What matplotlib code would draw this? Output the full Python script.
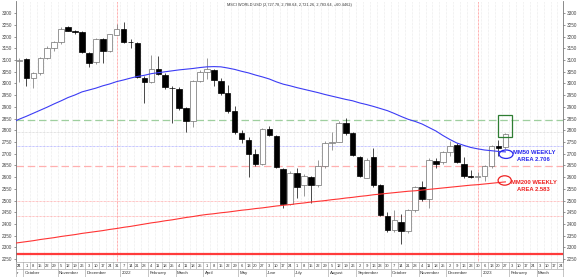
import pandas as pd
import matplotlib
matplotlib.use("Agg")
import matplotlib.pyplot as plt
from matplotlib.patches import Ellipse, Rectangle

plt.rcParams['font.family'] = ['Liberation Sans', 'DejaVu Sans']

title = "MSCI WORLD USD (2,727.78, 2,788.64, 2,721.26, 2,783.64, +60.4462)"

# weekly candles, first one is the week ending 2021-09-24
first_week = "2021-09-24"
opens = [3095, 3103, 3022, 3044, 3110, 3153, 3176, 3239, 3224, 3218,
         3132, 3090, 3188, 3140, 3208, 3232, 3179, 3173, 3025, 3005,
         3062, 3037, 2982, 2975, 2894, 2841, 3011, 3051, 3058, 3012,
         2958, 2883, 2790, 2759, 2699, 2655, 2804, 2776, 2634, 2486,
         2618, 2567, 2601, 2567, 2646, 2748, 2752, 2833, 2788, 2685,
         2598, 2685, 2567, 2433, 2373, 2409, 2370, 2461, 2558, 2505,
         2670, 2665, 2708, 2737, 2658, 2604, 2600, 2604, 2646, 2733,
         2727.78]
highs = [3110, 3110, 3051, 3115, 3160, 3180, 3243, 3244, 3228, 3222,
         3136, 3192, 3192, 3213, 3254, 3262, 3190, 3176, 3030, 3122,
         3118, 3045, 2990, 2985, 2900, 3015, 3056, 3108, 3062, 3022,
         2995, 2905, 2800, 2770, 2720, 2810, 2819, 2780, 2640, 2625,
         2640, 2615, 2605, 2674, 2755, 2794, 2838, 2852, 2795, 2690,
         2680, 2724, 2570, 2450, 2460, 2444, 2466, 2562, 2584, 2680,
         2680, 2712, 2756, 2745, 2688, 2631, 2622, 2652, 2736, 2759,
         2788.64]
lows = [3008, 2990, 2980, 3036, 3105, 3140, 3170, 3222, 3212, 3128,
        3072, 3085, 3087, 3136, 3205, 3172, 3150, 3025, 2916, 3000,
        3035, 2978, 2832, 2888, 2794, 2816, 3005, 3020, 2990, 2950,
        2875, 2785, 2745, 2602, 2647, 2650, 2775, 2638, 2467, 2480,
        2512, 2520, 2490, 2560, 2640, 2716, 2750, 2780, 2690, 2600,
        2595, 2560, 2435, 2365, 2365, 2313, 2360, 2450, 2500, 2470,
        2640, 2655, 2690, 2660, 2596, 2596, 2590, 2582, 2640, 2690,
        2721.26]
closes = [3102, 3022, 3044, 3110, 3153, 3176, 3232, 3226, 3220, 3135,
          3088, 3189, 3140, 3210, 3232, 3179, 3175, 3029, 3005, 3062,
          3041, 2983, 2979, 2894, 2841, 3011, 3051, 3062, 3015, 2958,
          2883, 2794, 2762, 2699, 2655, 2804, 2780, 2642, 2486, 2620,
          2558, 2603, 2567, 2646, 2748, 2752, 2833, 2788, 2695, 2605,
          2674, 2567, 2439, 2373, 2416, 2370, 2461, 2558, 2505, 2673,
          2658, 2708, 2733, 2665, 2604, 2601, 2603, 2646, 2733, 2723.19,
          2783.64]

# moving averages, starting one week before the first candle
ma50 = [2835, 2848, 2860, 2873, 2886, 2899, 2913, 2926, 2940, 2951,
        2964, 2972, 2980, 2990, 2998, 3008, 3015, 3023, 3030, 3035,
        3042, 3046, 3050, 3054, 3058, 3061, 3064, 3068, 3071, 3072,
        3071, 3066, 3060, 3052, 3045, 3036, 3028, 3019, 3007, 2997,
        2990, 2982, 2975, 2968, 2961, 2953, 2946, 2939, 2932, 2926,
        2917, 2910, 2902, 2893, 2884, 2872, 2859, 2847, 2838, 2827,
        2812, 2797, 2778, 2761, 2746, 2736, 2727, 2721, 2716, 2713,
        2710, 2708]
ma200 = [2317, 2321, 2325, 2329, 2334, 2338, 2342, 2347, 2351, 2355,
         2360, 2364, 2368, 2372, 2377, 2381, 2386, 2390, 2395, 2400,
         2405, 2409, 2414, 2418, 2423, 2428, 2432, 2437, 2441, 2444,
         2448, 2451, 2455, 2459, 2462, 2466, 2469, 2473, 2477, 2480,
         2483, 2487, 2490, 2494, 2497, 2500, 2504, 2507, 2511, 2514,
         2518, 2521, 2525, 2528, 2531, 2534, 2537, 2540, 2542, 2545,
         2548, 2551, 2554, 2557, 2560, 2563, 2566, 2568, 2571, 2574,
         2577, 2580]

green_level = 2842
grey_level = 2795
blue_level = 2732
red_dashed_level = 2648
red_dotted_levels = [2499, 2434]
red_support = 2274

y_ticks = list(range(2250, 3301, 50))
year_lines = ["2021-12-31", "2022-12-30"]

W, H = 580, 277


def draw_plot():
    fig = plt.figure(figsize=(W / 100, H / 100), dpi=100)
    left, right = 16 / W, 563 / W
    ax = fig.add_axes([left, 15 / H, right - left, 261 / H])
    ax_d = fig.add_axes([left, 8 / H, right - left, 7 / H])
    ax_m = fig.add_axes([left, 0.5 / H, right - left, 7.5 / H])

    n = len(opens)
    xs = list(range(n))
    xlim = (-0.5, 78.3)
    ax.set_xlim(*xlim)
    ax.set_ylim(2238, 3352)

    # weekly grid
    for k in range(-1, 80):
        ax.axvline(k + 0.5, color='#d8d8d8', lw=0.4, ls=(0, (1, 1.5)), zorder=0)

    start = pd.Timestamp(first_week)
    for d in year_lines:
        k = (pd.Timestamp(d) - start).days // 7
        ax.axvline(k, color='#ff6060', lw=0.5, ls=(0, (1, 1)), zorder=1)

    # horizontal levels
    ax.axhline(green_level, color='#9fcf9f', lw=0.9, ls=(0, (6, 3)), zorder=1)
    ax.axhline(grey_level, color='#c8c8c8', lw=0.5, ls=(0, (1, 1)), zorder=1)
    ax.axhline(blue_level, color='#8f8fff', lw=0.5, ls=(0, (1, 1)), zorder=1)
    ax.axhline(red_dashed_level, color='#ffb0b0', lw=0.9, ls=(0, (6, 3)), zorder=1)
    for lv in red_dotted_levels:
        ax.axhline(lv, color='#ff8c8c', lw=0.5, ls=(0, (1, 1)), zorder=1)
    ax.axhline(red_support, color='#ff3b3b', lw=1.6, zorder=1)

    # moving averages
    xm = list(range(-1, n))
    ax.plot(xm, ma50, color='#3c3cf5', lw=0.8, zorder=4)
    ax.plot(xm, ma200, color='#ff3434', lw=0.8, zorder=4)

    # candles
    for x, o, h, l, c in zip(xs, opens, highs, lows, closes):
        up = c >= o
        edge = '#707070' if up else 'black'
        ax.vlines(x, l, h, color=edge, lw=0.5, zorder=2)
        bottom = min(o, c)
        height = max(abs(c - o), 1.5)
        ax.bar(x, height, bottom=bottom, width=0.8,
               color='white' if up else 'black', edgecolor=edge,
               linewidth=0.5, zorder=3)

    # annotations on the last candle
    ax.add_patch(Rectangle((68.95, 2773), 1.95, 91, fill=False,
                           edgecolor='#2e7d32', lw=0.9, zorder=5))
    ax.add_patch(Ellipse((70.1, 2698), 2.0, 36, fill=False,
                         edgecolor='#2727ee', lw=0.9, zorder=5))
    ax.add_patch(Ellipse((69.9, 2586), 1.9, 40, fill=False,
                         edgecolor='#ee2222', lw=0.9, zorder=5))
    ax.text(74.1, 2705, "MM50 WEEKLY", color='#2727ee', fontsize=4.2,
            fontweight='bold', ha='center', va='center', zorder=6)
    ax.text(74.1, 2677, "AREA 2.706", color='#2727ee', fontsize=4.2,
            fontweight='bold', ha='center', va='center', zorder=6)
    ax.text(74.1, 2577, "MM200 WEEKLY", color='#ee2222', fontsize=4.2,
            fontweight='bold', ha='center', va='center', zorder=6)
    ax.text(74.1, 2547, "AREA 2.583", color='#ee2222', fontsize=4.2,
            fontweight='bold', ha='center', va='center', zorder=6)

    ax.text(0.5, 0.992, title, transform=ax.transAxes, ha='center', va='top',
            fontsize=2.8, color='#333333')

    # axes styling
    ax.set_xticks([])
    ax.set_yticks(y_ticks)
    ax.set_yticklabels([str(v) for v in y_ticks])
    ax.tick_params(axis='y', left=True, right=True, labelleft=True,
                   labelright=True, labelsize=3.3, length=1.5, width=0.4,
                   pad=1.5, colors='#444444')
    for s in ['top', 'bottom']:
        ax.spines[s].set_visible(False)
    for s in ['left', 'right']:
        ax.spines[s].set_color('#777777')
        ax.spines[s].set_linewidth(0.6)

    # date strips
    weeks = pd.date_range(start - pd.Timedelta(weeks=3), periods=83, freq='7D')
    for a in (ax_d, ax_m):
        a.set_xlim(*xlim)
        a.set_ylim(0, 1)
        a.set_xticks([])
        a.set_yticks([])
        for s in a.spines.values():
            s.set_color('#999999')
            s.set_linewidth(0.4)
    prev_month = None
    for i, d in enumerate(weeks):
        k = i - 3
        day = str(d.day)
        if k >= 0:
            ax_d.axvline(k - 0.5, color='#999999', lw=0.4)
            ax_d.text(k, 0.45, day, fontsize=3, ha='center', va='center',
                      color='#333333', clip_on=True)
        elif k == -1:
            # only the tail of the clipped label shows at the left edge
            ax_d.text(xlim[0] + 0.05, 0.45, day[-1], fontsize=3, ha='left',
                      va='center', color='#333333')
        if d.month != prev_month:
            name = str(d.year) if d.month == 1 else d.strftime('%B')
            if k >= 0:
                ax_m.axvline(k - 0.5, color='#999999', lw=0.4)
                ax_m.text(k - 0.3, 0.45, name, fontsize=3.2, ha='left',
                          va='center', color='#333333', clip_on=True)
            else:
                ax_m.text(xlim[0] + 0.05, 0.45, name[-1], fontsize=3.2,
                          ha='left', va='center', color='#333333')
            prev_month = d.month

    fig.savefig('out.png', dpi=100)
    return ax


draw_plot()
